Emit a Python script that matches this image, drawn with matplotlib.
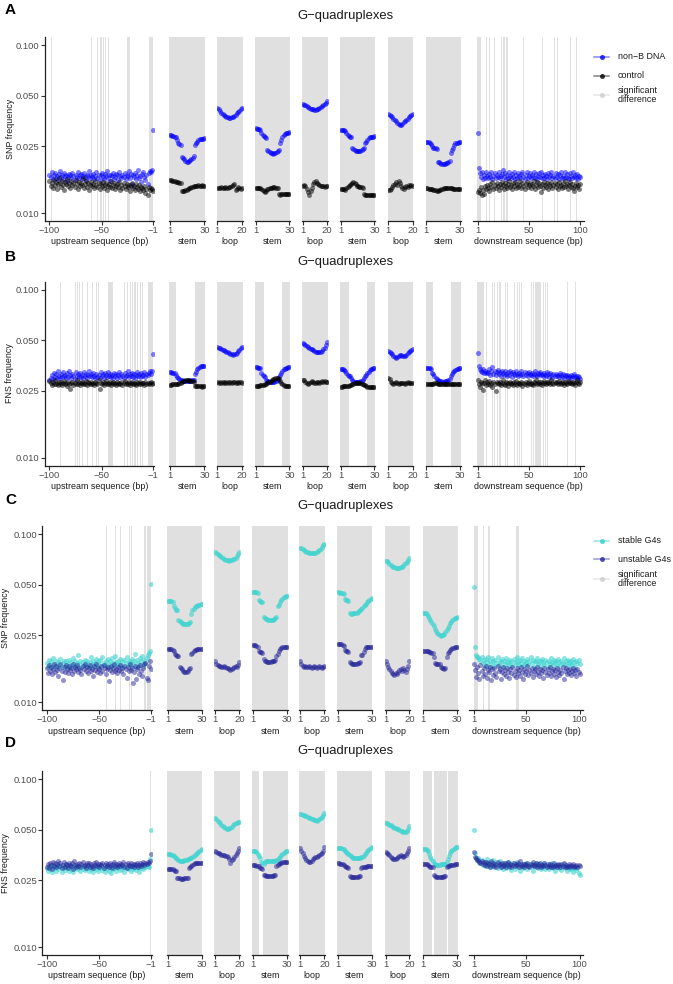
import numpy as np
import matplotlib.pyplot as plt
from matplotlib.lines import Line2D
from matplotlib.ticker import NullLocator

plt.rcParams['font.family'] = ['Liberation Sans', 'DejaVu Sans']

W, H = 673, 984

# all frequencies are in units of 1e-4

# ---------------- A : SNP frequency, non-B DNA vs control
a_up_nonb = [170,164,176,160,168,174,162,166,158,172,178,164,168,160,174,166,170,156,164,172,
             168,162,174,166,158,170,164,176,162,168,172,160,166,174,164,158,170,166,178,162,
             168,164,172,160,166,176,162,170,158,168,174,164,160,172,166,178,162,168,156,170,
             166,174,160,164,172,168,158,176,166,162,170,164,174,160,168,166,178,162,172,150,
             168,164,174,160,170,182,162,166,154,172,176,164,158,170,150,174,178,176,180,313]
a_up_ctrl = [156,146,152,142,158,148,154,140,150,162,152,144,156,148,138,154,150,160,146,152,
             142,156,148,152,144,158,150,140,154,146,152,148,162,142,150,156,144,152,138,148,
             154,146,150,142,156,148,144,152,140,150,146,154,142,148,152,138,146,150,144,156,
             142,148,152,140,146,150,144,154,138,148,142,152,146,140,150,144,148,136,146,152,
             142,146,138,150,144,140,148,136,144,142,138,146,132,140,128,144,138,142,140,136]
a_down_nonb = [300,186,173,165,177,159,169,163,175,167, 161,171,165,177,159,167,173,163,169,165,
               175,161,167,171,181,165,173,159,169,163, 177,167,161,171,165,175,159,169,163,173,
               167,161,171,177,165,159,169,175,163,167, 173,161,169,165,177,163,171,159,167,173,
               165,175,161,169,163,171,167,159,173,165, 169,177,163,167,161,173,165,171,159,169,
               175,163,167,161,177,165,171,163,159,173, 167,161,175,165,169,163,171,159,167,165]
a_down_ctrl = [133,138,132,143,128,137,131,145,139,147, 141,135,149,143,153,139,147,141,151,145,
               137,149,143,153,147,139,151,145,141,149, 155,143,147,139,151,145,153,141,149,143,
               147,155,141,151,145,139,149,153,143,147, 151,141,149,145,155,139,147,153,143,151,
               145,133,149,141,153,147,143,151,139,149, 145,153,141,147,151,143,149,139,153,145,
               147,141,151,143,155,145,149,139,147,153, 143,149,141,135,145,151,143,147,139,149]
a_stem_nonb = [
    [290,290,289,288,286,283,272,262,258,256,217,213,209,205,203,203,205,207,210,213,218,253,261,267,272,275,277,278,278,279],
    [320,319,318,316,313,300,292,287,284,282,238,235,232,229,227,226,227,229,231,234,237,262,272,286,293,297,300,301,302,303],
    [314,314,313,311,307,298,292,288,285,283,246,242,238,236,235,234,235,236,238,241,245,262,266,272,280,283,285,286,286,287],
    [266,266,265,263,259,250,246,244,243,242,203,201,199,197,196,196,197,198,200,202,204,229,238,246,256,260,262,263,264,264]]
a_stem_ctrl = [
    [157,157,156,156,155,154,153,153,152,151,136,135,136,137,138,139,141,142,143,144,145,146,146,146,147,146,146,147,146,146],
    [142,142,141,141,141,140,138,136,134,136,139,140,141,142,142,143,143,142,142,141,131,129,130,131,131,131,131,131,130,131],
    [140,140,139,139,138,141,143,146,148,150,152,153,152,150,146,145,144,144,143,142,130,129,129,129,128,129,129,128,129,129],
    [141,141,140,140,139,139,138,138,137,136,136,137,138,139,140,141,141,142,142,141,141,141,141,140,140,140,140,140,140,140]]
a_loop_nonb = [
    [425,415,405,397,390,383,378,374,371,369,369,371,375,380,386,393,400,407,414,420],
    [448,443,438,433,428,423,419,416,414,413,413,414,417,421,426,432,439,446,454,462],
    [390,384,377,371,365,359,352,345,339,335,336,341,347,353,359,365,371,377,384,390]]
a_loop_ctrl = [
    [142,141,142,143,142,141,143,142,141,143,144,145,147,149,137,140,144,142,140,141],
    [146,147,145,140,133,128,136,142,150,153,155,152,150,147,146,145,146,144,145,146],
    [137,138,140,143,147,150,153,148,155,151,146,141,139,143,146,144,147,146,147,146]]
a_sig_up = [(-98,-98),(-60,-60),(-54,-54),(-51,-50),(-48,-48),(-46,-46),(-43,-43),(-25,-23),(-4,-1)]
a_sig_down = [(1,3),(9,9),(12,12),(17,17),(24,24),(26,27),(29,30),(45,45),(63,63),(75,75),(78,78),(90,90),(96,96)]
a_sig_stem = [[(1,30)], [(1,30)], [(1,30)], [(1,30)]]
a_sig_loop = [[(1,20)], [(1,20)], [(1,20)]]

# ---------------- B : FNS frequency, non-B DNA vs control
b_up_nonb = [290,298,310,294,320,304,314,300,326,308, 296,316,302,322,306,312,298,318,304,328,
             310,300,316,306,294,322,308,314,302,318, 304,312,298,324,308,316,300,310,326,306,
             314,302,320,308,296,316,304,312,300,322, 306,314,298,318,310,302,324,308,316,304,
             312,300,320,306,314,298,310,322,304,316, 308,300,318,306,312,326,302,314,308,320,
             304,316,300,310,322,306,314,302,318,308, 312,324,304,316,310,320,326,314,330,413]
b_up_ctrl = [286,278,272,282,276,288,274,280,270,284, 276,282,272,278,286,274,280,268,282,276,
             256,278,284,272,280,276,288,274,282,270, 278,284,274,280,276,286,272,282,278,274,
             284,276,280,270,282,278,274,288,257,280, 276,282,272,278,286,274,280,276,284,272,
             278,282,274,280,270,284,276,280,274,282, 272,278,286,274,280,276,282,272,278,284,
             274,280,276,270,282,278,274,284,276,280, 278,272,282,276,280,274,278,282,276,280]
b_down_nonb = [419,350,338,330,325,335,320,330,318,325, 318,336,312,326,345,316,328,310,322,332,
               314,324,308,330,318,312,326,316,306,322, 312,328,318,304,324,314,310,326,316,308,
               320,312,328,314,306,322,312,318,308,324, 314,310,320,306,316,326,312,308,318,314,
               322,310,316,306,320,312,308,324,314,304, 318,310,300,314,306,316,308,312,302,318,
               310,304,314,300,312,306,310,298,308,304, 312,300,306,316,302,308,298,306,304,294]
b_down_ctrl = [288,274,262,284,278,254,280,288,270,282, 276,286,272,280,264,282,276,250,284,278,
               274,282,270,280,288,276,272,282,278,266, 280,284,274,278,270,282,276,286,272,280,
               278,274,284,268,280,276,282,272,278,286, 274,280,276,270,282,278,288,274,280,284,
               276,282,272,278,286,280,274,284,278,282, 276,288,280,274,284,278,282,276,286,280,
               274,282,278,272,284,280,276,286,278,282, 280,274,284,278,272,282,288,280,276,284]
b_stem_nonb = [
    [322,322,321,320,318,310,302,297,293,289,288,287,287,286,286,286,287,287,288,289,290,315,322,338,344,347,349,350,350,350],
    [345,345,344,343,340,320,312,308,304,290,287,285,284,283,283,283,284,285,287,290,302,310,318,328,335,339,342,344,345,345],
    [336,336,335,333,328,318,312,308,305,300,288,285,284,283,283,283,284,285,286,288,296,305,312,318,325,331,335,338,340,341],
    [344,344,343,341,336,320,313,308,300,292,288,286,285,285,284,284,285,286,287,289,293,305,315,322,328,333,337,339,340,341]]
b_stem_ctrl = [
    [272,272,273,273,274,274,275,276,278,280,284,286,287,288,288,288,288,287,286,285,283,268,267,267,266,266,266,265,266,266],
    [268,268,268,268,269,269,270,272,274,276,278,281,284,287,290,293,295,297,297,296,292,286,280,274,270,268,267,267,267,267],
    [265,265,266,266,266,267,267,268,270,272,274,276,277,278,278,278,278,277,276,274,272,269,266,264,263,263,262,262,262,262],
    [274,274,275,275,275,276,276,277,277,277,276,275,274,274,274,275,275,276,276,276,275,275,274,274,274,273,273,273,273,273]]
b_loop_nonb = [
    [455,452,448,444,440,436,432,428,424,420,416,413,411,412,416,422,430,440,450,458],
    [480,476,470,464,458,452,446,441,436,432,428,425,423,423,426,432,441,452,466,485],
    [432,427,421,414,405,397,390,395,404,410,407,401,400,404,410,417,423,430,437,445]]
b_loop_ctrl = [
    [281,279,282,280,283,278,281,279,284,280,282,278,281,283,279,282,280,284,281,279],
    [290,288,283,277,276,279,283,285,281,278,280,284,282,279,283,286,283,285,282,284],
    [298,292,284,280,276,279,281,277,275,278,280,277,279,276,278,281,279,277,280,279]]
b_sig_up = [(-89,-89),(-75,-75),(-73,-73),(-71,-71),(-68,-68),(-64,-64),(-59,-59),(-55,-55),(-53,-53),
            (-43,-40),(-28,-28),(-25,-25),(-22,-22),(-20,-20),(-18,-18),(-16,-16),(-13,-13),(-11,-11),(-5,-1)]
b_sig_down = [(1,6),(9,9),(15,15),(17,17),(20,20),(22,23),(28,28),(30,30),(36,36),(39,39),(41,41),(43,43),
              (53,53),(55,55),(57,61),(64,64),(66,66),(68,68),(88,88),(95,95)]
b_sig_stem = [[(1,6),(23,30)], [(1,8),(24,30)], [(1,8),(24,30)], [(1,6),(23,30)]]
b_sig_loop = [[(1,20)], [(1,20)], [(1,20)]]

# ---------------- C : SNP frequency, stable vs unstable G4s
c_up_stab = [171,163,179,167,175,159,183,169,165,177, 161,173,167,181,163,171,177,165,175,159,
             169,179,163,173,167,183,165,175,161,171, 191,169,177,163,173,167,179,165,175,169,
             161,173,185,167,177,163,171,181,165,175, 169,179,163,187,171,167,177,165,181,169,
             175,163,183,171,167,189,173,165,177,169, 181,167,175,163,179,171,185,167,177,173,
             165,181,169,175,193,163,179,171,167,183, 175,189,165,179,171,183,190,195,203,505]
c_up_unst = [160,150,166,154,162,148,158,170,152,164, 156,144,160,168,154,136,162,152,166,158,
             150,164,156,160,148,170,154,162,158,166, 152,160,156,148,164,158,170,154,162,150,
             160,166,154,158,144,164,156,168,152,160, 158,150,164,154,166,160,148,158,162,134,
             156,164,152,160,168,154,158,150,162,156, 166,154,160,148,164,158,140,162,154,168,
             156,160,131,152,164,137,158,162,148,166, 154,144,160,170,172,140,136,164,176,158]
c_down_stab = [482,213,190,186,185,180,177,185,171,179, 167,181,173,185,163,177,169,183,175,165,
               179,171,185,167,177,173,181,163,175,169, 183,173,167,179,171,177,165,181,173,169,
               187,175,167,179,171,183,165,177,169,173, 181,167,175,185,171,179,163,177,173,183,
               169,177,165,175,181,171,167,179,173,163, 177,169,183,173,167,179,171,175,165,181,
               173,167,177,171,183,169,175,165,179,173, 169,177,167,181,173,163,175,171,179,169]
c_down_unst = [170,156,142,162,150,138,166,154,144,160, 148,164,140,156,152,162,136,158,146,160,
               150,142,164,154,158,138,152,162,148,156, 144,160,152,140,158,150,162,146,154,142,
               160,150,156,144,162,152,138,158,148,154, 164,146,156,150,160,142,154,158,148,162,
               152,144,158,150,156,140,160,152,146,158, 150,162,144,154,158,148,156,142,160,152,
               146,156,150,162,138,154,160,148,156,150, 158,146,154,160,150,156,144,158,152,148]
c_stem_stab = [
    [402,402,401,399,395,372,362,356,352,310,305,300,296,293,291,290,291,293,296,300,335,352,360,366,371,375,378,380,382,383],
    [454,454,452,450,445,405,398,395,393,322,318,314,311,309,307,307,308,310,313,317,322,372,378,395,405,413,420,425,427,428],
    [450,450,449,448,446,442,412,407,404,402,338,337,337,338,339,340,341,343,347,352,358,364,371,378,385,392,399,406,412,418],
    [341,340,338,335,324,315,308,300,292,284,274,266,259,253,250,249,250,252,256,262,270,278,286,294,301,307,312,316,319,322]]
c_stem_unst = [
    [207,207,206,206,205,203,193,190,189,188,163,160,157,154,152,151,152,154,157,160,193,197,202,204,205,206,206,206,206,206],
    [219,219,218,217,214,201,199,198,197,182,177,175,174,174,174,174,175,175,176,178,189,193,203,208,211,213,214,214,214,214],
    [223,223,222,221,219,216,205,203,201,199,173,171,170,169,169,169,170,171,172,174,190,192,200,208,212,213,213,214,214,214],
    [203,203,202,202,201,200,198,196,195,186,172,170,169,169,168,162,160,159,158,159,187,196,200,205,208,210,211,212,212,213]]
c_loop_stab = [
    [785,775,762,750,739,728,719,712,705,700,697,696,697,700,706,714,725,740,758,785],
    [831,822,812,802,793,785,779,774,770,768,768,770,775,782,792,805,820,837,855,876],
    [696,688,678,668,658,649,641,634,629,627,627,629,633,640,649,659,670,684,700,716]]
c_loop_unst = [
    [175,170,166,164,165,163,162,164,161,159,160,157,155,158,160,162,164,161,166,174],
    [175,168,165,163,164,161,163,165,162,160,162,164,161,159,162,164,163,160,163,165],
    [176,170,163,158,153,150,147,146,150,148,152,155,157,154,159,156,151,157,165,177]]
c_sig_up = [(-43,-43),(-35,-35),(-30,-30),(-21,-21),(-19,-19),(-7,-6),(-4,-1)]
c_sig_down = [(1,4),(10,10),(15,15),(41,43)]
c_sig_stem = [[(1,30)], [(1,30)], [(1,30)], [(1,30)]]
c_sig_loop = [[(1,20)], [(1,20)], [(1,20)]]

# ---------------- D : FNS frequency, stable vs unstable G4s
d_up_stab = [296,284,306,292,302,280,310,294,300,286, 304,290,298,308,282,296,302,288,312,294,
             300,286,304,292,298,280,308,294,302,290, 296,306,284,300,292,304,288,298,310,294,
             286,302,292,300,280,296,306,290,298,284, 302,294,308,288,296,282,300,292,304,286,
             298,276,302,290,296,308,284,300,294,304, 288,298,292,306,282,300,294,290,304,296,
             286,302,292,298,310,288,300,294,280,304, 296,308,290,302,298,314,306,300,333,501]
d_up_unst = [301,313,295,319,307,291,323,305,315,299, 311,327,303,317,295,309,321,301,313,307,
             297,319,309,303,315,293,325,307,301,313, 305,317,299,311,321,303,309,297,315,307,
             319,301,311,305,295,317,309,323,303,313, 299,311,307,319,297,309,315,303,313,301,
             317,307,295,311,321,305,313,299,309,317, 303,313,307,323,301,311,297,315,309,305,
             319,303,311,299,313,307,317,301,309,315, 305,313,321,309,317,311,323,315,327,358]
d_down_stab = [501,361,340,330,338,322,318,330,308,318, 304,318,334,310,322,298,316,306,328,300,
               312,320,294,308,324,302,314,290,318,306, 296,310,322,300,312,288,316,304,292,308,
               320,298,310,286,314,302,294,312,306,318, 292,304,314,300,308,284,312,298,306,316,
               296,304,312,290,308,298,316,292,306,302, 290,312,302,316,296,306,284,310,298,304,
               294,308,288,302,312,296,304,286,300,292, 306,290,298,282,294,302,288,296,278,270]
d_down_unst = [369,345,338,330,328,322,316,326,312,320, 310,322,306,318,312,302,324,308,316,304,
               314,300,320,308,312,302,318,306,310,316, 302,312,322,306,314,300,310,318,304,312,
               308,316,302,326,310,304,314,300,312,308, 318,306,302,314,308,320,304,310,316,302,
               312,306,318,300,310,304,316,308,298,312, 306,314,302,308,300,316,304,310,302,314,
               308,300,312,304,316,298,310,302,306,314, 300,308,304,312,298,306,310,302,308,304]
d_stem_stab = [
    [358,358,357,356,354,350,345,340,335,330,327,326,326,327,328,330,332,334,336,338,341,344,348,352,357,362,367,373,379,386],
    [373,373,372,370,360,348,338,322,316,314,320,324,326,327,327,326,325,324,324,325,328,332,338,345,352,359,365,370,373,374],
    [390,390,389,388,386,382,376,370,364,358,352,347,343,340,339,338,338,338,339,340,342,345,350,357,364,371,378,384,389,392],
    [384,384,383,381,375,360,345,335,325,318,312,310,309,309,310,311,311,311,312,314,320,335,350,362,372,380,386,390,393,395]]
d_stem_unst = [
    [292,292,292,291,290,289,285,283,258,257,257,256,256,256,257,257,258,259,297,300,305,310,313,315,316,317,317,318,318,318],
    [308,308,307,306,305,303,297,295,293,270,268,267,266,266,266,266,266,267,268,270,305,309,312,316,318,320,321,322,322,322],
    [315,315,314,314,312,310,303,300,298,296,265,263,262,262,262,262,262,263,264,266,296,298,300,301,302,303,303,303,303,303],
    [312,312,311,311,310,306,302,300,299,270,264,262,261,261,261,262,262,263,264,266,300,303,306,308,309,310,310,311,311,311]]
d_loop_stab = [
    [586,575,565,555,545,536,528,520,513,508,507,510,515,522,530,538,545,550,554,557],
    [622,618,613,609,604,600,595,590,585,580,575,570,567,566,569,575,583,595,610,632],
    [550,545,540,535,530,525,520,515,510,506,502,498,494,490,487,484,486,494,508,526]]
d_loop_unst = [
    [372,368,364,361,358,356,354,352,350,347,343,336,318,328,335,342,352,362,374,390],
    [388,376,362,350,338,330,324,322,323,327,333,338,342,345,348,352,357,364,375,393],
    [370,364,358,352,346,340,336,335,333,338,344,349,352,348,344,347,353,362,374,387]]
d_sig_up = [(-1,-1)]
d_sig_down = []
d_sig_stem = [[(1,30)], [(1,6),(10,30)], [(1,30)], [(1,8),(11,21),(23,30)]]
d_sig_loop = [[(1,20)], [(1,20)], [(1,20)]]

col_nonb = '#0000FF'
col_ctrl = '#000000'
col_stab = '#40D4D0'
col_unst = '#27279A'
col_sig = '#E0E0E0'

kinds = ['up', 'stem', 'loop', 'stem', 'loop', 'stem', 'loop', 'stem', 'down']
xlabels = ['upstream sequence (bp)', 'stem', 'loop', 'stem', 'loop', 'stem', 'loop', 'stem',
           'downstream sequence (bp)']
xlims = {'up': (-104.3, 0.2), 'stem': (0.5, 30.5), 'loop': (0.5, 20.5), 'down': (-3.5, 103.5)}
xticks = {'up': ([-100, -50, -1], ['\u2212100', '\u221250', '\u22121']),
          'stem': ([1, 30], ['1', '30']), 'loop': ([1, 20], ['1', '20']),
          'down': ([1, 50, 100], ['1', '50', '100'])}

# panel edges in pixels
pans_ab = [(45.0, 154.0), (169.3, 205.0), (216.7, 242.7), (255.0, 290.0), (302.3, 327.7),
           (340.0, 375.0), (387.7, 413.3), (425.7, 460.7), (473.3, 584.0)]
pans_cd = [(42.3, 152.0), (167.3, 202.3), (214.3, 240.0), (252.3, 287.7), (299.3, 325.0),
           (337.3, 372.3), (385.0, 410.0), (422.7, 457.7), (469.3, 583.3)]
PH = 184


def in_order(up, stems, loops, down):
    return [up, stems[0], loops[0], stems[1], loops[1], stems[2], loops[2], stems[3], down]


def draw_row(fig, top, pans, ylab, ylab_x, s1, s2, sig, c1, c2, a1, a2):
    for i, kind in enumerate(kinds):
        x0, x1 = pans[i]
        ax = fig.add_axes([x0 / W, 1 - (top + PH) / H, (x1 - x0) / W, PH / H])
        ax.set_facecolor('none')
        for (s, e) in sig[i]:
            ax.axvspan(s - 0.5, e + 0.5, color=col_sig, lw=0, zorder=0)
        for vals, c, a in ((s1[i], c1, a1), (s2[i], c2, a2)):
            v = np.array(vals) / 1e4
            if kind == 'up':
                x = np.arange(-len(v), 0)
            else:
                x = np.arange(1, len(v) + 1)
            ax.scatter(x, v, s=13, color=c, alpha=a, linewidths=0, zorder=2)
        ax.set_yscale('log')
        ax.set_ylim(0.0090, 0.1116)
        ax.set_xlim(*xlims[kind])
        ax.yaxis.set_minor_locator(NullLocator())
        ax.xaxis.set_minor_locator(NullLocator())
        tk, tl = xticks[kind]
        ax.set_xticks(tk)
        ax.set_xticklabels(tl)
        for sp in ['top', 'right']:
            ax.spines[sp].set_visible(False)
        ax.spines['bottom'].set_linewidth(0.9)
        ax.spines['bottom'].set_color('#222222')
        ax.tick_params(axis='both', direction='out', length=2.6, width=0.8, color='#333333',
                       labelsize=6.8, labelcolor='#4D4D4D', pad=1.2)
        if kind == 'up':
            ax.spines['left'].set_linewidth(0.9)
            ax.spines['left'].set_color('#222222')
            ax.set_yticks([0.01, 0.025, 0.05, 0.1])
            ax.set_yticklabels(['0.010', '0.025', '0.050', '0.100'])
        else:
            ax.spines['left'].set_visible(False)
            ax.set_yticks([])
        ax.text(0.5, -21.0 / PH, xlabels[i], transform=ax.transAxes, ha='center', va='center',
                fontsize=6.4, color='#1A1A1A')
    fig.text(ylab_x / W, 1 - (top + PH / 2) / H, ylab, rotation=90, ha='center', va='center',
             fontsize=6.4, color='#1A1A1A')


def legend(fig, ys, labels, cols, alphas):
    for y, lab, c, a in zip(ys, labels, cols, alphas):
        yf = 1 - y / H
        fig.add_artist(Line2D([594.3 / W, 609.0 / W], [yf, yf], transform=fig.transFigure,
                              color=c, alpha=a * 0.8, lw=1.1))
        fig.add_artist(Line2D([601.7 / W], [yf], transform=fig.transFigure, marker='o',
                              markersize=3.6, markeredgewidth=0, color=c, alpha=min(1, a + 0.2)))
        fig.text(617.7 / W, yf, lab, ha='left', va='center', fontsize=6.4, color='#1A1A1A',
                 linespacing=1.05)


fig = plt.figure(figsize=(W / 100, H / 100), dpi=100)

rows = [
    ('A', 10.0, 16.5, 37.0, pans_ab, 'SNP frequency', 10.5,
     in_order(a_up_nonb, a_stem_nonb, a_loop_nonb, a_down_nonb),
     in_order(a_up_ctrl, a_stem_ctrl, a_loop_ctrl, a_down_ctrl),
     in_order(a_sig_up, a_sig_stem, a_sig_loop, a_sig_down), col_nonb, col_ctrl, 0.5, 0.5),
    ('B', 256.7, 261.5, 281.5, pans_ab, 'FNS frequency', 9.5,
     in_order(b_up_nonb, b_stem_nonb, b_loop_nonb, b_down_nonb),
     in_order(b_up_ctrl, b_stem_ctrl, b_loop_ctrl, b_down_ctrl),
     in_order(b_sig_up, b_sig_stem, b_sig_loop, b_sig_down), col_nonb, col_ctrl, 0.5, 0.5),
    ('C', 500.0, 506.0, 526.0, pans_cd, 'SNP frequency', 6.0,
     in_order(c_up_stab, c_stem_stab, c_loop_stab, c_down_stab),
     in_order(c_up_unst, c_stem_unst, c_loop_unst, c_down_unst),
     in_order(c_sig_up, c_sig_stem, c_sig_loop, c_sig_down), col_stab, col_unst, 0.6, 0.5),
    ('D', 743.3, 751.0, 771.0, pans_cd, 'FNS frequency', 6.0,
     in_order(d_up_stab, d_stem_stab, d_loop_stab, d_down_stab),
     in_order(d_up_unst, d_stem_unst, d_loop_unst, d_down_unst),
     in_order(d_sig_up, d_sig_stem, d_sig_loop, d_sig_down), col_stab, col_unst, 0.6, 0.5),
]

for letter, ly, ty, top, pans, ylab, ylx, s1, s2, sig, c1, c2, a1, a2 in rows:
    draw_row(fig, top, pans, ylab, ylx, s1, s2, sig, c1, c2, a1, a2)
    fig.text(5 / W, 1 - ly / H, letter, ha='left', va='center', fontsize=11, fontweight='bold')
    fig.text(345 / W, 1 - ty / H, 'G\u2212quadruplexes', ha='center', va='center', fontsize=9.4,
             color='#1A1A1A')

legend(fig, [56.7, 76.0, 95.3], ['non\u2212B DNA', 'control', 'significant\ndifference'],
       [col_nonb, col_ctrl, '#CCCCCC'], [0.6, 0.6, 0.6])
legend(fig, [540.7, 559.3, 578.7], ['stable G4s', 'unstable G4s', 'significant\ndifference'],
       [col_stab, col_unst, '#CCCCCC'], [0.7, 0.6, 0.6])

fig.savefig('out.png', dpi=100)
